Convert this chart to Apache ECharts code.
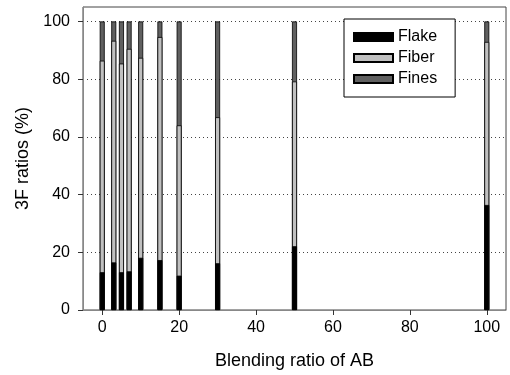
<!DOCTYPE html>
<html>
<head>
<meta charset="utf-8">
<script src="https://cdn.jsdelivr.net/npm/echarts@6/dist/echarts.min.js"></script>
<style>
  html, body { margin: 0; padding: 0; background: #fff; }
  #main { width: 510px; height: 375px; }
</style>
</head>
<body>
<div id="main"></div>
<script>
// blending ratios of AB (x positions of the bars)
const ratios = [0, 3, 5, 7, 10, 15, 20, 30, 50, 100];
// 3F ratios (%)
const flake = [13.1, 16.5, 13.1, 13.4, 18.1, 17.3, 11.9, 16.2, 22.1, 36.4];
const fiber = [73.3, 76.8, 72.3, 77.1, 69.3, 77.3, 52.1, 50.6, 57.1, 56.5];
const fines = [13.6, 6.7, 14.6, 9.5, 12.6, 5.4, 36.0, 33.2, 20.8, 7.1];
const xTicks = [0, 20, 40, 60, 80, 100];
const yTicks = [0, 20, 40, 60, 80, 100];

const font = 'Liberation Sans, Arial, sans-serif';
const chart = echarts.init(document.getElementById('main'));

// stack does not work on a value base axis, so draw cumulative tops
// back to front: fines (full height), fiber, then flake on top
const topFlake = flake.slice();
const topFiber = flake.map((v, i) => v + fiber[i]);
const topFines = topFiber.map((v, i) => v + fines[i]);

function barSeries(name, tops, color) {
  return {
    name: name,
    type: 'bar',
    barWidth: 5,
    barGap: '-100%',
    data: ratios.map((r, i) => [r, tops[i]]),
    itemStyle: { color: color, borderColor: '#000', borderWidth: 0.8 }
  };
}

chart.setOption({
  animation: false,
  textStyle: { fontFamily: font },
  grid: {
    left: 83, right: 4, top: 7, bottom: 63,
    show: true, borderColor: '#444', borderWidth: 1
  },
  legend: {
    orient: 'vertical',
    left: 344, top: 19,
    padding: [10, 18, 10, 9],
    icon: 'rect',
    itemWidth: 39, itemHeight: 8, itemGap: 5,
    backgroundColor: '#fff',
    borderColor: '#000', borderWidth: 1,
    textStyle: { fontFamily: font, fontSize: 16, color: '#000' },
    data: ['Flake', 'Fiber', 'Fines']
  },
  xAxis: {
    type: 'value',
    min: -5, max: 105,
    name: 'Blending ratio of AB',
    nameLocation: 'middle',
    nameGap: 42,
    nameTextStyle: { fontFamily: font, fontSize: 18, color: '#000' },
    axisLine: { onZero: false, lineStyle: { color: '#888', width: 1 } },
    axisTick: { customValues: xTicks, length: 5, lineStyle: { color: '#333' } },
    axisLabel: { customValues: xTicks, margin: 10, fontSize: 16, color: '#000', fontFamily: font },
    splitLine: { show: false }
  },
  yAxis: {
    type: 'value',
    min: 0, max: 105,
    name: '3F ratios (%)',
    nameLocation: 'middle',
    nameGap: 44,
    nameTextStyle: { fontFamily: font, fontSize: 18, color: '#000' },
    axisLine: { show: true, onZero: false, lineStyle: { color: '#888', width: 1 } },
    axisTick: { show: true, customValues: yTicks, length: 5, lineStyle: { color: '#333' } },
    axisLabel: { customValues: yTicks, margin: 13, fontSize: 16, color: '#000', fontFamily: font },
    splitLine: { show: true, lineStyle: { color: '#444', type: [1, 3], width: 1 } }
  },
  series: [
    barSeries('Fines', topFines, '#606060'),
    barSeries('Fiber', topFiber, '#c0c0c0'),
    barSeries('Flake', topFlake, '#000000')
  ]
});
</script>
</body>
</html>
